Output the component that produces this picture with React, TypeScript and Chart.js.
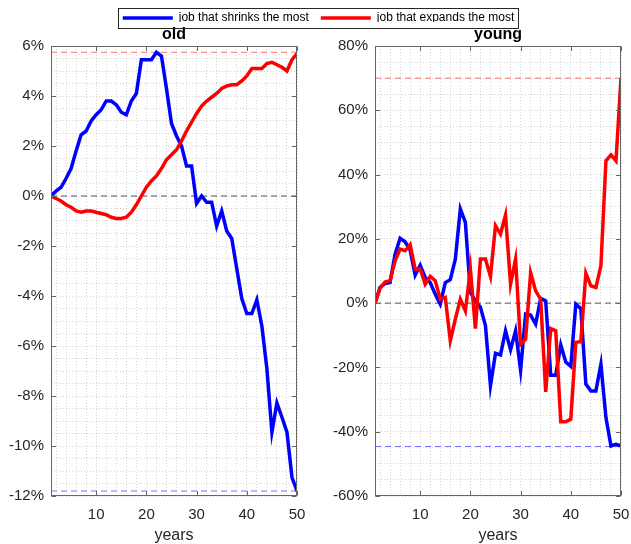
import React, { useEffect, useRef } from 'react';
import { Chart, registerables } from 'chart.js';

Chart.register(...registerables);

// ---------- data ----------
const years = [
  1, 2, 3, 4, 5, 6, 7, 8, 9, 10,
  11, 12, 13, 14, 15, 16, 17, 18, 19, 20,
  21, 22, 23, 24, 25, 26, 27, 28, 29, 30,
  31, 32, 33, 34, 35, 36, 37, 38, 39, 40,
  41, 42, 43, 44, 45, 46, 47, 48, 49, 50,
];

const seriesLabels = ['job that shrinks the most', 'job that expands the most'];
const panelTitles = ['old', 'young'];

const oldShrink = [
  0, 0.2, 0.35, 0.7, 1.1, 1.8, 2.45, 2.6, 3.0, 3.25,
  3.45, 3.8, 3.8, 3.65, 3.35, 3.25, 3.8, 4.1, 5.45, 5.45,
  5.45, 5.75, 5.6, 4.3, 2.9, 2.4, 2.0, 1.2, 1.2, -0.3,
  0, -0.25, -0.25, -1.2, -0.6, -1.4, -1.7, -2.9, -4.1, -4.7,
  -4.7, -4.15, -5.2, -6.9, -9.45, -8.28, -8.85, -9.45, -11.25, -11.8,
];
const oldExpand = [
  0, -0.1, -0.2, -0.35, -0.45, -0.6, -0.65, -0.6, -0.6, -0.65,
  -0.7, -0.75, -0.85, -0.9, -0.9, -0.85, -0.65, -0.35, 0.0, 0.35,
  0.6, 0.8, 1.1, 1.45, 1.65, 1.85, 2.2, 2.6, 2.95, 3.3,
  3.6, 3.8, 3.95, 4.1, 4.3, 4.4, 4.45, 4.45, 4.6, 4.8,
  5.1, 5.1, 5.1, 5.3, 5.35, 5.25, 5.15, 5.0, 5.45, 5.7,
];
const youngShrink = [
  0, 4.9, 6.1, 6.4, 15.2, 20.2, 19.1, 16.5, 8.7, 11.8,
  8.0, 6.4, 2.8, -0.3, 6.4, 7.3, 13.7, 29.3, 25.1, 3.3,
  0.7, -1.3, -7.0, -25.7, -15.6, -16.1, -8.6, -14.5, -8.6, -20.9,
  -3.4, -3.7, -6.5, 1.5, 0.7, -22.4, -22.4, -13.0, -18.3, -19.7,
  -0.3, -1.7, -25.2, -27.3, -27.3, -19.0, -35.6, -44.4, -43.9, -44.4,
];
const youngExpand = [
  0, 4.6, 6.6, 7.0, 13.2, 16.8, 16.3, 18.2, 10.6, 10.6,
  5.9, 8.3, 7.0, 1.2, 1.8, -11.7, -5.0, 1.2, -2.4, 10.6,
  -7.9, 13.7, 13.7, 8.3, 24.1, 21.5, 27.4, 5.9, 13.7, -12.8,
  -11.2, 9.5, 3.8, 1.2, -27.6, -7.9, -8.6, -36.9, -36.9, -36.1,
  -12.2, -12.0, 9.3, 5.4, 4.9, 11.6, 44.3, 46.1, 44.3, 70.0,
];

// reference (dashed) levels
const oldShrinkFloor = -11.8;
const oldExpandCeiling = 5.75;
const youngShrinkFloor = -44.6;
const youngExpandCeiling = 70;
const zeroLevel = 0;

// ticks
const oldYTicks = [-12, -10, -8, -6, -4, -2, 0, 2, 4, 6];
const youngYTicks = [-60, -40, -20, 0, 20, 40, 60, 80];
const xTicks = [10, 20, 30, 40, 50];
const oldYMinorStep = 0.5;
const youngYMinorStep = 5;
const xMinorStep = 2;

// ---------- styling ----------
const FONT = '"Liberation Sans", Arial, Helvetica, sans-serif';
const TEXT = '#262626';
const BLUE = '#0000ff';
const RED = '#ff0000';
const GRID = 'rgba(0,0,0,0.16)';

const pts = (vals: number[]) => vals.map((v, i) => ({ x: years[i], y: v }));
const hline = (v: number) => [
  { x: years[0], y: v },
  { x: years[years.length - 1], y: v },
];

const stepTicks = (min: number, max: number, step: number) => {
  const out: { value: number }[] = [];
  const n = Math.round((max - min) / step);
  for (let i = 0; i <= n; i++) out.push({ value: Math.round((min + i * step) * 1000) / 1000 });
  return out;
};

const framePlugin = {
  id: 'frame',
  afterDraw(chart: any, _args: any, opts: any) {
    const { ctx, chartArea } = chart;
    const xs = chart.scales.x;
    const ys = chart.scales.y;
    const L = Math.round(chartArea.left) + 0.5;
    const R = Math.round(chartArea.right) - 0.5;
    const T = Math.round(chartArea.top) + 0.5;
    const B = Math.round(chartArea.bottom) - 0.5;
    const tl = 4.5;
    ctx.save();
    ctx.setLineDash([]);
    ctx.strokeStyle = '#666666';
    ctx.lineWidth = 1;
    ctx.strokeRect(L, T, R - L, B - T);
    ctx.beginPath();
    for (const v of opts.yMajor || []) {
      const p = Math.round(ys.getPixelForValue(v)) + 0.5;
      ctx.moveTo(L, p);
      ctx.lineTo(L + tl, p);
      ctx.moveTo(R, p);
      ctx.lineTo(R - tl, p);
    }
    for (const v of opts.xMajor || []) {
      const p = Math.round(xs.getPixelForValue(v)) + 0.5;
      ctx.moveTo(p, B);
      ctx.lineTo(p, B - tl);
      ctx.moveTo(p, T);
      ctx.lineTo(p, T + tl);
    }
    ctx.stroke();
    ctx.restore();
  },
};

const legendBoxPlugin = {
  id: 'legendBox',
  afterDraw(chart: any) {
    const lg = chart.legend;
    if (!lg || !lg.legendHitBoxes || !lg.legendHitBoxes.length) return;
    const hb = lg.legendHitBoxes;
    const first = hb[0];
    const last = hb[hb.length - 1];
    const l = Math.round(first.left - 5) + 0.5;
    const r = Math.round(last.left + last.width + 4) + 0.5;
    const cy = first.top + first.height / 2;
    const t = Math.round(cy - 10) + 0.5;
    const { ctx } = chart;
    ctx.save();
    ctx.setLineDash([]);
    ctx.strokeStyle = '#262626';
    ctx.lineWidth = 1;
    ctx.strokeRect(l, t, r - l, 20);
    ctx.restore();
  },
};

type Panel = {
  title: string;
  shrink: number[];
  expand: number[];
  floor: number;
  ceiling: number;
  yTicks: number[];
  yMinorStep: number;
  withLegend: boolean;
  padLeft: number;
  yWidth: number;
  rightInset: number;
};

function makeConfig(p: Panel): any {
  const yMin = p.yTicks[0];
  const yMax = p.yTicks[p.yTicks.length - 1];
  const lineDs = (label: string, data: number[], color: string, order: number) => ({
    label,
    data: pts(data),
    borderColor: color,
    backgroundColor: color,
    borderWidth: 3.5,
    pointRadius: 0,
    tension: 0,
    fill: false,
    order,
    yAxisID: 'y',
    xAxisID: 'x',
  });
  const refDs = (label: string, v: number, color: string) => ({
    label,
    data: hline(v),
    borderColor: color,
    borderWidth: 1,
    borderDash: [6, 4],
    pointRadius: 0,
    fill: false,
    order: 5,
    yAxisID: 'y',
    xAxisID: 'x',
  });

  const scales: any = {
    x: {
      type: 'linear',
      min: years[0],
      max: years[years.length - 1],
      afterBuildTicks: (s: any) => {
        s.ticks = stepTicks(xMinorStep, years[years.length - 1], xMinorStep);
      },
      ticks: {
        autoSkip: false,
        maxRotation: 0,
        padding: 10,
        color: TEXT,
        font: { family: FONT, size: 15 },
        callback: (v: number) => (xTicks.includes(v) ? String(v) : ''),
      },
      grid: { color: GRID, lineWidth: 1, drawTicks: false },
      border: { display: false, dash: [1, 2] },
      title: {
        display: true,
        text: 'years',
        color: TEXT,
        font: { family: FONT, size: 16, lineHeight: 1.1 },
        padding: { top: 0, bottom: 0 },
      },
      afterFit: (s: any) => {
        s.height = 48;
        s.paddingLeft = 0;
        s.paddingRight = 0;
      },
    },
    y: {
      type: 'linear',
      position: 'left',
      min: yMin,
      max: yMax,
      afterBuildTicks: (s: any) => {
        s.ticks = stepTicks(yMin, yMax, p.yMinorStep);
      },
      ticks: {
        autoSkip: false,
        padding: 7,
        color: TEXT,
        font: { family: FONT, size: 15 },
        callback: (v: number) => {
          const r = Math.round(v * 1000) / 1000;
          return p.yTicks.includes(r) ? `${r}%` : '';
        },
      },
      grid: { color: GRID, lineWidth: 1, drawTicks: false },
      border: { display: false, dash: [1, 2] },
      afterFit: (s: any) => {
        s.width = p.yWidth;
        s.paddingTop = 0;
        s.paddingBottom = 0;
      },
    },
  };
  if (p.rightInset > 0) {
    scales.yPad = {
      type: 'linear',
      position: 'right',
      axis: 'y',
      display: true,
      grid: { display: false, drawTicks: false },
      ticks: { display: false },
      border: { display: false },
      afterFit: (s: any) => {
        s.width = p.rightInset;
      },
    };
  }

  return {
    type: 'line',
    data: {
      datasets: [
        lineDs(seriesLabels[0], p.shrink, BLUE, 1),
        lineDs(seriesLabels[1], p.expand, RED, 0),
        refDs('zero', zeroLevel, '#555555'),
        refDs('expand max', p.ceiling, 'rgba(255,0,0,0.55)'),
        refDs('shrink min', p.floor, 'rgba(0,0,255,0.55)'),
      ],
    },
    options: {
      responsive: false,
      animation: false,
      events: [],
      layout: {
        padding: {
          left: p.padLeft,
          right: p.rightInset > 0 ? 0 : 10,
          top: p.withLegend ? 0 : 22,
          bottom: 0,
        },
      },
      scales,
      plugins: {
        tooltip: { enabled: false },
        legend: {
          display: p.withLegend,
          position: 'top',
          align: 'center',
          weight: 3000,
          maxHeight: 22,
          labels: {
            usePointStyle: true,
            pointStyle: 'line',
            pointStyleWidth: 50,
            padding: 12,
            color: '#000000',
            font: { family: FONT, size: 12 },
            filter: (item: any) => item.datasetIndex < 2,
            sort: (a: any, b: any) => a.datasetIndex - b.datasetIndex,
          },
        },
        title: {
          display: true,
          text: p.title,
          color: '#000000',
          fullSize: false,
          weight: 100,
          font: { family: FONT, size: 16, weight: 'bold', lineHeight: 1 },
          padding: { top: 5, bottom: 3 },
        },
        frame: { yMajor: p.yTicks, xMajor: xTicks },
      },
    },
    plugins: p.withLegend ? [framePlugin, legendBoxPlugin] : [framePlugin],
  };
}

export default function App() {
  const aRef = useRef<HTMLCanvasElement>(null);
  const bRef = useRef<HTMLCanvasElement>(null);

  useEffect(() => {
    const a = new Chart(
      aRef.current as HTMLCanvasElement,
      makeConfig({
        title: panelTitles[0],
        shrink: oldShrink,
        expand: oldExpand,
        floor: oldShrinkFloor,
        ceiling: oldExpandCeiling,
        yTicks: oldYTicks,
        yMinorStep: oldYMinorStep,
        withLegend: true,
        padLeft: 6,
        yWidth: 45,
        rightInset: 334,
      })
    );
    const b = new Chart(
      bRef.current as HTMLCanvasElement,
      makeConfig({
        title: panelTitles[1],
        shrink: youngShrink,
        expand: youngExpand,
        floor: youngShrinkFloor,
        ceiling: youngExpandCeiling,
        yTicks: youngYTicks,
        yMinorStep: youngYMinorStep,
        withLegend: false,
        padLeft: 0,
        yWidth: 60,
        rightInset: 0,
      })
    );
    return () => {
      a.destroy();
      b.destroy();
    };
  }, []);

  return (
    <div style={{ position: 'fixed', left: 0, top: 0, width: 631, height: 544, background: '#ffffff' }}>
      <canvas
        ref={aRef}
        width={631}
        height={544}
        style={{ position: 'absolute', left: 0, top: 0, width: 631, height: 544 }}
      />
      <canvas
        ref={bRef}
        width={316}
        height={544}
        style={{ position: 'absolute', left: 315, top: 0, width: 316, height: 544 }}
      />
    </div>
  );
}
